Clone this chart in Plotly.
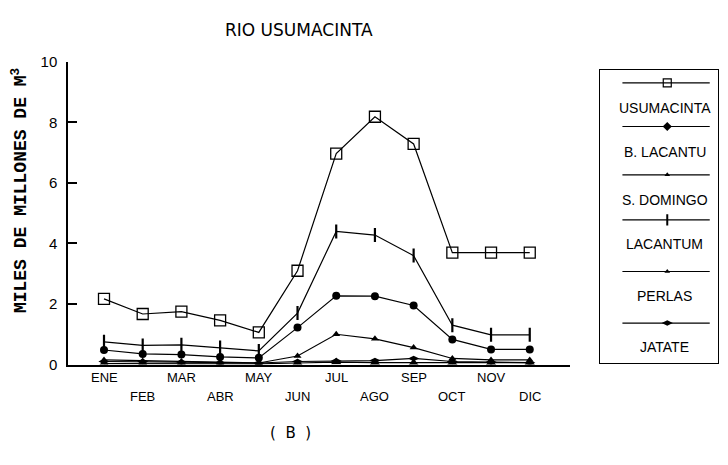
import plotly.graph_objects as go

months = ["ENE", "FEB", "MAR", "ABR", "MAY", "JUN", "JUL", "AGO", "SEP", "OCT", "NOV", "DIC"]
usumacinta = [2.17, 1.67, 1.75, 1.46, 1.06, 3.1, 6.97, 8.19, 7.29, 3.7, 3.7, 3.7]
b_lacantu = [0.48, 0.35, 0.33, 0.25, 0.22, 1.22, 2.27, 2.26, 1.95, 0.83, 0.5, 0.5]
s_domingo = [0.15, 0.12, 0.1, 0.08, 0.05, 0.28, 1.0, 0.85, 0.56, 0.2, 0.15, 0.15]
lacantum = [0.75, 0.63, 0.65, 0.56, 0.45, 1.7, 4.4, 4.28, 3.6, 1.3, 0.98, 0.98]
perlas = [0.03, 0.03, 0.03, 0.02, 0.02, 0.05, 0.08, 0.06, 0.05, 0.06, 0.06, 0.06]
jatate = [0.1, 0.1, 0.08, 0.06, 0.05, 0.1, 0.12, 0.13, 0.2, 0.1, 0.08, 0.06]
y_ticks = [0, 2, 4, 6, 8, 10]

BLACK = "black"
series = [
    ("USUMACINTA", usumacinta, dict(symbol="square-open", size=11, color=BLACK, line=dict(width=1.3, color=BLACK))),
    ("B. LACANTU", b_lacantu, dict(symbol="circle", size=8, color=BLACK)),
    ("S. DOMINGO", s_domingo, dict(symbol="triangle-up", size=7, color=BLACK)),
    ("LACANTUM", lacantum, dict(symbol="line-ns", size=10, color=BLACK, line=dict(width=2.2, color=BLACK))),
    ("PERLAS", perlas, dict(symbol="triangle-up", size=9, color=BLACK)),
    ("JATATE", jatate, dict(symbol="diamond-wide", size=8, color=BLACK)),
]
legend_markers = [
    dict(symbol="square-open", size=8, color=BLACK, line=dict(width=1.2, color=BLACK)),
    dict(symbol="diamond", size=7, color=BLACK),
    dict(symbol="triangle-up", size=5, color=BLACK),
    dict(symbol="line-ns", size=8, color=BLACK, line=dict(width=2, color=BLACK)),
    dict(symbol="triangle-up", size=5, color=BLACK),
    dict(symbol="diamond-wide", size=8, color=BLACK),
]

fig = go.Figure()
x_idx = list(range(len(months)))
for name, vals, mk in series:
    fig.add_trace(go.Scatter(x=x_idx, y=vals, mode="lines+markers", name=name,
                             line=dict(color=BLACK, width=1.2), marker=mk,
                             showlegend=False, xaxis="x", yaxis="y"))

# hand-made legend in a small secondary axes area
leg_line_y = [0.955, 0.806, 0.641, 0.487, 0.311, 0.135]
leg_text_y = [0.869, 0.719, 0.554, 0.405, 0.227, 0.053]
for (name, vals, mk), lmk, ly in zip(series, legend_markers, leg_line_y):
    fig.add_trace(go.Scatter(x=[0.19, 0.93], y=[ly, ly], mode="lines",
                             line=dict(color=BLACK, width=1.2),
                             showlegend=False, xaxis="x2", yaxis="y2", hoverinfo="skip"))
    fig.add_trace(go.Scatter(x=[0.57], y=[ly], mode="markers", marker=lmk,
                             showlegend=False, xaxis="x2", yaxis="y2", hoverinfo="skip"))

annotations = []
for (name, vals, mk), ty in zip(series, leg_text_y):
    annotations.append(dict(x=0.55, y=ty, xref="x2", yref="y2", text=name, showarrow=False,
                            yanchor="middle",
                            font=dict(family="Liberation Sans, sans-serif",
                                      size=14, color=BLACK)))

# staggered month labels
for i, m in enumerate(months):
    annotations.append(dict(x=i, y=(465 - 382) / 465 if i % 2 == 0 else (465 - 402) / 465,
                            xref="x", yref="paper", text=m, showarrow=False, yanchor="middle",
                            font=dict(family="Liberation Sans, sans-serif",
                                      size=13, color=BLACK)))

annotations.append(dict(x=290 / 728, y=(465 - 440) / 465, xref="paper", yref="paper",
                        text="(  B  )", showarrow=False, yanchor="middle",
                        font=dict(family="DejaVu Sans", size=15, color=BLACK)))
annotations.append(dict(x=20 / 728, y=(465 - 189) / 465, xref="paper", yref="paper",
                        text="MILES DE MILLONES DE M<sup>3</sup>", showarrow=False,
                        textangle=-90, xanchor="center", yanchor="middle",
                        font=dict(family="Liberation Mono, Courier New, monospace", size=18,
                                  color=BLACK, weight="bold")))
annotations.append(dict(x=299 / 728, y=(465 - 22) / 465, xref="paper", yref="paper",
                        text="RIO USUMACINTA", showarrow=False, yanchor="middle",
                        font=dict(family="DejaVu Sans", size=17, color=BLACK)))

fig.update_layout(
    width=728, height=465,
    margin=dict(l=0, r=0, t=0, b=0),
    paper_bgcolor="white", plot_bgcolor="white",
    xaxis=dict(domain=[68 / 728, 570 / 728], anchor="y", range=[-0.93, 12.04],
               showgrid=False, zeroline=False, showline=True,
               linecolor=BLACK, linewidth=1.5, showticklabels=False, ticks=""),
    yaxis=dict(domain=[96 / 465, 410 / 465], anchor="x", range=[0, 10], tickvals=y_ticks,
               showgrid=False, zeroline=False, showline=True,
               linecolor=BLACK, linewidth=1.5, ticks="inside", ticklen=9, tickwidth=1.5,
               tickcolor=BLACK, ticklabelstandoff=6,
               tickfont=dict(family="Liberation Sans, sans-serif", size=15, color=BLACK)),
    xaxis2=dict(domain=[600 / 728, 718 / 728], anchor="y2", range=[0, 1],
                showgrid=False, zeroline=False, showline=True, mirror=True, linecolor=BLACK,
                linewidth=1.2, showticklabels=False, ticks=""),
    yaxis2=dict(domain=[(465 - 367) / 465, (465 - 63) / 465], anchor="x2", range=[0, 1],
                showgrid=False, zeroline=False, showline=True, mirror=True, linecolor=BLACK,
                linewidth=1.2, showticklabels=False, ticks=""),
    annotations=annotations,
)

fig.write_html("out.html")
